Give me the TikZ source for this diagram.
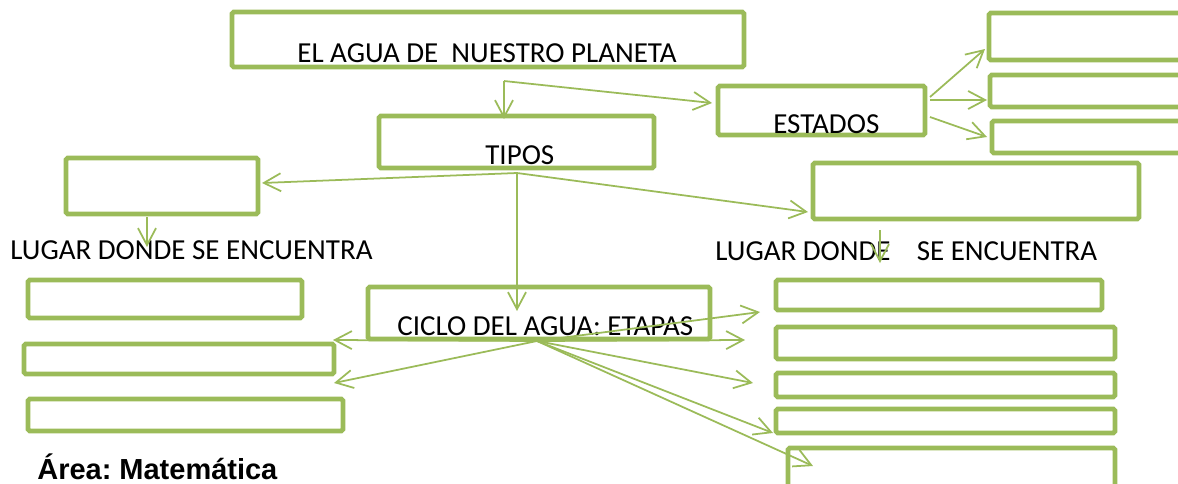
\documentclass[tikz,border=0pt]{standalone}
\usepackage{fontspec}
\setmainfont{Carlito}
\newfontfamily\arialf{Liberation Sans}
\usetikzlibrary{arrows.meta,fit}
\definecolor{og}{HTML}{9BBB59}
\frenchspacing
\begin{document}
\begin{tikzpicture}[x=0.02cm,y=-0.02cm,
  box/.style={draw=og, line width=2.8pt, inner sep=0pt, rounded corners=1pt},
  lbl/.style={anchor=base west, inner sep=0pt, font=\fontsize{16.5}{18}\selectfont},
  conn/.style={draw=og, line width=1pt, -{Straight Barb[length=3.4mm,width=3.6mm]}},
  ln/.style={draw=og, line width=1pt}]
\useasboundingbox (0,0) rectangle (1178,484);
% boxes
\node[box, fit={(232,12)(744,67)}] (title) {};
\node[box, fit={(379,116)(654,168)}] (tipos) {};
\node[box, fit={(718,86)(925,135)}] (estados) {};
\node[box, fit={(989,13)(1200,60)}] (ra) {};
\node[box, fit={(990,75)(1200,107)}] (rb) {};
\node[box, fit={(992,121)(1200,153)}] (rc) {};
\node[box, fit={(66,158)(258,214)}] (lbox) {};
\node[box, fit={(813,163)(1139,219)}] (rbox) {};
\node[box, fit={(28,280)(302,318)}] (l1) {};
\node[box, fit={(24,344)(334,374)}] (l2) {};
\node[box, fit={(28,399)(343,431)}] (l3) {};
\node[box, fit={(368,287)(710,339)}] (ciclo) {};
\node[box, fit={(776,280)(1102,310)}] (r1) {};
\node[box, fit={(776,327)(1115,359)}] (r2) {};
\node[box, fit={(776,373)(1115,397)}] (r3) {};
\node[box, fit={(776,409)(1115,433)}] (r4) {};
\node[box, fit={(788,448)(1115,495)}] (r5) {};
% texts
\node[lbl] (titleT) at (297,62) {EL AGUA DE\ \ NUESTRO PLANETA};
\node[lbl] (tiposT) at (485,164) {TIPOS};
\node[lbl] (estadosT) at (773,133) {ESTADOS};
\node[lbl] (lugarL) at (10,259) {LUGAR DONDE SE ENCUENTRA};
\node[lbl] (lugarR) at (715,260) {LUGAR DONDE\ \ \ \ SE ENCUENTRA};
\node[lbl] (cicloT) at (397,335) {CICLO DEL AGUA: ETAPAS};
\node[anchor=base west, inner sep=0pt, font=\arialf\bfseries\fontsize{16.5}{18}\selectfont] (area) at (37,479) {Área: Matemática};
% connector points
\coordinate (b0) at (504,81);
\coordinate (b0a) at (504,119);
\coordinate (b0b) at (712,103);
\coordinate (e1) at (930,97);
\coordinate (e1t) at (985,49);
\coordinate (e2) at (930,100);
\coordinate (e2t) at (987,100);
\coordinate (e3) at (930,117);
\coordinate (e3t) at (987,137);
\coordinate (b1) at (517,173);
\coordinate (b1a) at (262,183);
\coordinate (b1b) at (808,212);
\coordinate (b1c) at (517,311);
\coordinate (d1) at (147,217);
\coordinate (d1t) at (147,247);
\coordinate (d2) at (880,230);
\coordinate (d2t) at (880,263);
\coordinate (c0) at (537,341);
\coordinate (c0a) at (333,340);
\coordinate (c0b) at (334,383);
\coordinate (c0c) at (760,312);
\coordinate (c0d) at (745,340);
\coordinate (c0e) at (753,383);
\coordinate (c0f) at (773,433);
\coordinate (c0g) at (813,466);
% connectors
\draw[conn] (b0) -- (b0a);
\draw[conn] (b0) -- (b0b);
\draw[conn] (e1) -- (e1t);
\draw[conn] (e2) -- (e2t);
\draw[conn] (e3) -- (e3t);
\draw[conn] (b1) -- (b1a);
\draw[conn] (b1) -- (b1b);
\draw[conn] (b1) -- (b1c);
\draw[conn] (d1) -- (d1t);
\draw[conn] (d2) -- (d2t);
\draw[conn] (c0) -- (c0a);
\draw[conn] (c0) -- (c0b);
\draw[conn] (c0) -- (c0c);
\draw[conn] (c0) -- (c0d);
\draw[conn] (c0) -- (c0e);
\draw[conn] (c0) -- (c0f);
\draw[conn] (c0) -- (c0g);
\end{tikzpicture}
\end{document}
